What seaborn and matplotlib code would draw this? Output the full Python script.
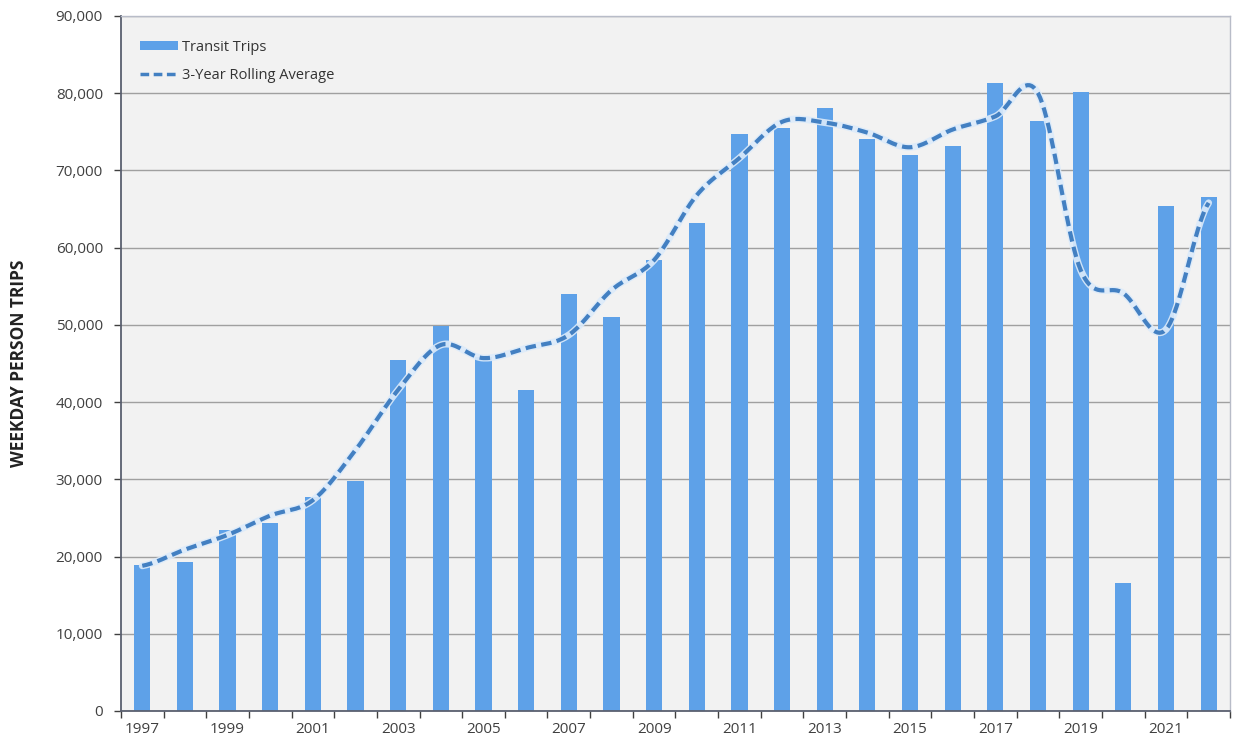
import numpy as np
import pandas as pd
import matplotlib
matplotlib.use("Agg")
import matplotlib.pyplot as plt
import seaborn as sns
from matplotlib.patches import Patch
from matplotlib.lines import Line2D
from matplotlib.ticker import FuncFormatter, FixedLocator

# Data
years = list(range(1997, 2023))
transit_trips = [18900, 19300, 23400, 24300, 27700, 29800, 45500, 49900, 45900, 41600,
                 54000, 51000, 58400, 63200, 74700, 75500, 78100, 74100, 72000, 73200,
                 81300, 76400, 80200, 16600, 65400, 66600]
rolling_avg = [18800, 20900, 22800, 25300, 27300, 33800, 41600, 47400, 45700, 47000,
               48700, 54500, 58400, 66800, 71600, 76300, 76200, 74900, 73000, 75300,
               77000, 80000, 57100, 54100, 49400, 65800]

df = pd.DataFrame({"year": [str(y) for y in years], "trips": transit_trips})

BAR_COLOR = "#5EA1E8"
LINE_COLOR = "#4380C2"
PLOT_BG = "#F2F2F2"


def smooth_curve(xs, ys, steps=20):
    """Catmull-Rom style smoothing like Excel's smoothed line."""
    xs = np.asarray(xs, float)
    ys = np.asarray(ys, float)
    px = np.concatenate([[2 * xs[0] - xs[1]], xs, [2 * xs[-1] - xs[-2]]])
    py = np.concatenate([[ys[0]], ys, [ys[-1]]])
    out_x, out_y = [], []
    for i in range(1, len(px) - 2):
        t = np.linspace(0, 1, steps, endpoint=False)
        p0, p1, p2, p3 = (np.array([px[j], py[j]]) for j in range(i - 1, i + 3))
        c1 = p1 + (p2 - p0) / 6
        c2 = p2 - (p3 - p1) / 6
        pts = ((1 - t) ** 3)[:, None] * p1 + (3 * (1 - t) ** 2 * t)[:, None] * c1 \
            + (3 * (1 - t) * t ** 2)[:, None] * c2 + (t ** 3)[:, None] * p2
        out_x.extend(pts[:, 0])
        out_y.extend(pts[:, 1])
    out_x.append(xs[-1])
    out_y.append(ys[-1])
    return np.array(out_x), np.array(out_y)


sns.set_theme(style="white")
plt.rcParams["font.family"] = ["Open Sans", "DejaVu Sans"]

fig = plt.figure(figsize=(12.38, 7.47), dpi=100)
ax = fig.add_axes([0.0977, 0.0482, 0.8958, 0.9304])
ax.set_facecolor(PLOT_BG)

sns.barplot(data=df, x="year", y="trips", color=BAR_COLOR, saturation=1,
            width=0.38, ax=ax, zorder=2, edgecolor="none", linewidth=0)

sx, sy = smooth_curve(np.arange(len(years)), rolling_avg)
ax.plot(sx, sy, color="#DCEBFA", lw=5, zorder=3, alpha=0.9)
ax.plot(sx, sy, color=LINE_COLOR, lw=3, ls=(0, (2.5, 1.3)), zorder=4)

ax.set_ylim(0, 90000)
ax.set_xlim(-0.5, len(years) - 0.5)
ax.set_yticks(range(0, 90001, 10000))
ax.yaxis.set_major_formatter(FuncFormatter(lambda v, p: f"{int(v):,}"))
ax.grid(axis="y", color="#A0A0A0", lw=1, zorder=0)
ax.set_axisbelow(True)

ax.xaxis.set_major_locator(FixedLocator(list(range(0, len(years), 2))))
ax.set_xticklabels([str(y) for y in years[::2]])
ax.xaxis.set_minor_locator(FixedLocator([i + 0.5 for i in range(-1, len(years))]))
ax.tick_params(axis="x", which="major", length=0, pad=8, labelsize=11, labelcolor="#404040")
ax.tick_params(axis="x", which="minor", length=5, width=1, color="#404040", direction="out", bottom=True)
ax.tick_params(axis="y", length=5, width=1, color="#404040", direction="out", left=True,
               labelsize=11, labelcolor="#404040", pad=8)

ax.set_xlabel("")
ax.set_ylabel("WEEKDAY PERSON TRIPS", fontsize=12.5, fontweight="bold", color="#222222", labelpad=20)

for side in ["left", "bottom"]:
    ax.spines[side].set_color("#5A6070")
    ax.spines[side].set_linewidth(1.3)
for side in ["top", "right"]:
    ax.spines[side].set_color("#B8BCC8")
    ax.spines[side].set_linewidth(1.0)

handles = [Patch(facecolor=BAR_COLOR, edgecolor="none"),
           Line2D([0], [0], color=LINE_COLOR, lw=2.5, ls=(0, (2.5, 1.3)))]
ax.legend(handles, ["Transit Trips", "3-Year Rolling Average"], loc="upper left",
          frameon=False, fontsize=10.5, handlelength=2.6, handleheight=0.6,
          handletextpad=0.3, labelspacing=0.9, bbox_to_anchor=(0.005, 0.985),
          labelcolor="#333333")

fig.savefig("out.png", dpi=100)
